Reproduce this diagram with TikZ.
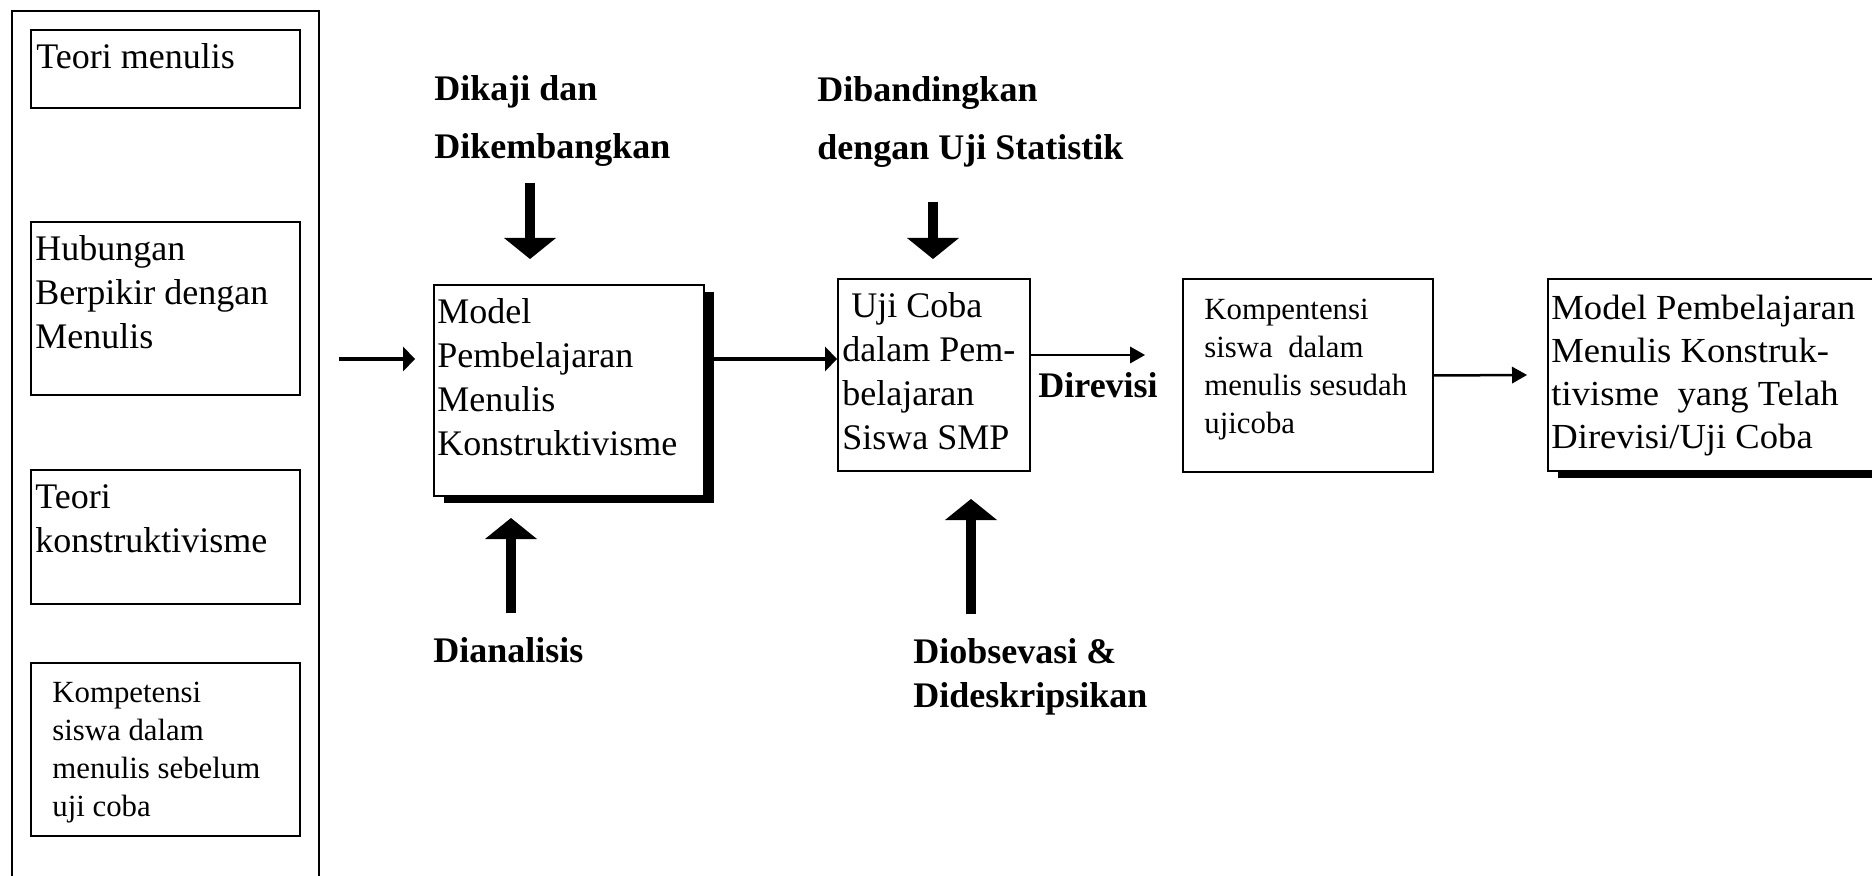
\documentclass[tikz,border=0pt]{standalone}
\usepackage{fontspec}
\setmainfont{Liberation Serif}
\newfontfamily\wideserif[FakeStretch=1.04]{Liberation Serif}
\usetikzlibrary{arrows.meta,shadows}

% invisible rules that fix the height of the first text line
\newcommand\strutA{\rule{0pt}{14.4pt}}
\newcommand\strutB{\rule{0pt}{12.3pt}}

\begin{document}
\begin{tikzpicture}[x=0.5pt,y=-0.5pt,
  box/.style={draw, line width=1pt, fill=white, inner sep=0pt, anchor=north west},
  shadowed/.style={drop shadow={shadow xshift=5pt, shadow yshift=-3.5pt, fill=black, opacity=1}},
  txt/.style={inner sep=0pt, anchor=north west, align=left,
    font={\fontsize{18pt}{22pt}\selectfont\lineskiplimit-\maxdimen}},
  lbl/.style={txt, font={\fontsize{18pt}{22pt}\selectfont\bfseries\lineskiplimit-\maxdimen}},
  lblwide/.style={txt, font={\fontsize{18pt}{29pt}\selectfont\bfseries\lineskiplimit-\maxdimen}},
  smalltxt/.style={txt, font={\fontsize{15.4pt}{19pt}\selectfont\lineskiplimit-\maxdimen}},
  widetxt/.style={txt, font={\wideserif\fontsize{17.6pt}{21.5pt}\selectfont\lineskiplimit-\maxdimen}},
  thickarrow/.style={line width=2.25pt, -{Triangle[length=6pt,width=12.5pt,line width=0pt]}},
  thinarrow/.style={line width=1pt, -{Triangle[length=7.5pt,width=8.5pt,line width=0pt]}},
  blockarrow/.style={line width=5.25pt, -{Triangle[length=10.5pt,width=26pt,line width=0pt]}},
]
\useasboundingbox (0,0) rectangle (1872,876);
\clip (0,0) rectangle (1872,876);

% left column: sources of the model
\node[box, minimum width=153.5pt, minimum height=445pt] (outer) at (11,10) {};
\node[box, minimum width=134.5pt, minimum height=39pt] (b1) at (30,29) {};
\node[box, minimum width=134.5pt, minimum height=86.5pt] (b2) at (30,221) {};
\node[box, minimum width=134.5pt, minimum height=67pt] (b3) at (30,469) {};
\node[box, minimum width=134.5pt, minimum height=86.5pt] (b4) at (30,662) {};
\node[txt] (t1) at (36,39.2) {\strutA Teori menulis};
\node[txt] (t2) at (35,231.2) {\strutA Hubungan\\Berpikir dengan\\Menulis};
\node[txt] (t3) at (35,479.2) {\strutA Teori\\konstruktivisme};
\node[smalltxt] (t4) at (52,677.4) {\strutB Kompetensi\\siswa dalam\\menulis sebelum\\uji coba};

% main process boxes
\node[box, shadowed, minimum width=135pt, minimum height=105.5pt] (main) at (433,284) {};
\node[txt] (tmain) at (437,294.2) {\strutA Model\\Pembelajaran\\Menulis\\Konstruktivisme};

\node[box, minimum width=96pt, minimum height=96pt] (uji) at (837,278) {};
\node[txt] (tuji) at (842,288.2) {\strutA\ Uji Coba\\dalam Pem-\\belajaran\\Siswa SMP};

\node[box, minimum width=125pt, minimum height=96.5pt] (komp) at (1182,278) {};
\node[smalltxt] (tkomp) at (1204,294.4) {\strutB Kompentensi\\siswa\ \ dalam\\menulis sesudah\\ujicoba};

\node[box, shadowed, minimum width=180pt, minimum height=96pt] (final) at (1547,278) {};
\node[widetxt] (tfinal) at (1551,290.2) {\strutA Model Pembelajaran\\Menulis Konstruk-\\tivisme\ \ yang Telah\\Direvisi/Uji Coba};

% bold labels
\node[lblwide] (kaji) at (434,71.2) {\strutA Dikaji dan\\Dikembangkan};
\node[lblwide] (banding) at (817,72.2) {\strutA Dibandingkan\\dengan Uji Statistik};
\node[lbl] (revisi) at (1038,368.2) {\strutA Direvisi};
\node[lbl] (obs) at (913,634.2) {\strutA Diobsevasi \&\\Dideskripsikan};
\node[lbl] (anal) at (433,633.2) {\strutA Dianalisis};

% flow arrows
\draw[thickarrow] ([xshift=9.5pt]outer.east |- 0,359) -- ([xshift=-9pt]main.west |- 0,359);
\draw[thickarrow] (main.east |- 0,359) -- (uji.west |- 0,359);
\draw[thinarrow] (uji.east |- 0,355) -- ++(114,0);
\draw[thinarrow, line width=1.25pt] (komp.east) -- ([xshift=-10pt]final.west);

% block arrows from the activity labels
\coordinate (kajiTail) at (530,183);
\coordinate (kajiTip) at (530,259);
\coordinate (bandingTail) at (933,202);
\coordinate (bandingTip) at (933,259);
\coordinate (analTail) at (511,613);
\coordinate (analTip) at (511,518);
\coordinate (obsTail) at (971,614);
\coordinate (obsTip) at (971,499);
\draw[blockarrow] (kajiTail) -- (kajiTip);
\draw[blockarrow] (bandingTail) -- (bandingTip);
\draw[blockarrow] (analTail) -- (analTip);
\draw[blockarrow] (obsTail) -- (obsTip);
\end{tikzpicture}
\end{document}
